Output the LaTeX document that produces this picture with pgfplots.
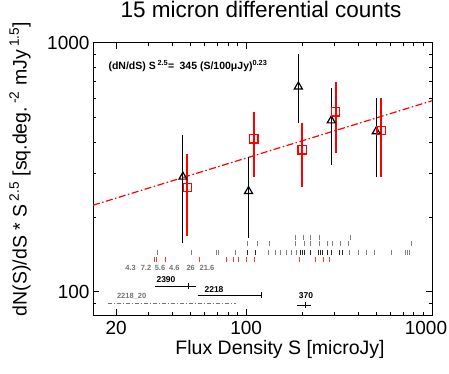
\documentclass[border=0pt]{standalone}
\usepackage{fontspec}
\setmainfont{Liberation Sans}
\usepackage{pgfplots}
\pgfplotsset{compat=1.18}
\begin{document}
\begin{tikzpicture}[x=1pt,y=1pt]
\useasboundingbox (-93,-58) rectangle (356,315);
\begin{axis}[
  at={(0,0)}, anchor=south west,
  width=339pt, height=272pt, scale only axis,
  xmode=log, ymode=log,
  xmin=15, xmax=1000, ymin=80.8, ymax=1000,
  xtick={20,100}, xticklabels={20,100},
  extra x ticks={1000}, extra x tick labels={1000},
  extra x tick style={xticklabel style={xshift=-6pt}},
  ytick={100,1000}, yticklabels={100,1000},
  minor xtick={30,40,50,60,70,80,90,200,300,400,500,600,700,800,900},
  minor ytick={90,200,300,400,500,600,700,800,900},
  major tick length=6pt, minor tick length=3pt,
  tick style={black, line width=1pt},
  axis line style={line width=1pt},
  tick align=inside,
  xtick pos=both, ytick pos=both,
  ticklabel style={font=\fontsize{19}{22}\selectfont},
  xticklabel style={yshift=-3pt},
  /pgf/number format/assume math mode=true,
  title={15 micron differential counts},
  title style={font=\fontsize{22.5}{26}\selectfont, at={(axis description cs:0.4956,1.103)}, anchor=center},
  xlabel={Flux Density S [microJy]},
  xlabel style={font=\fontsize{19.5}{23}\selectfont, at={(axis description cs:0.5516,-0.125)}, anchor=center},
  ylabel={dN(S)/dS * S\,\textsuperscript{2.5} [sq.deg.\,\textsuperscript{-2} mJy\,\textsuperscript{1.5}]},
  ylabel style={font=\fontsize{19.5}{23}\selectfont, at={(axis description cs:-0.2153,0.537)}, anchor=center},
  unbounded coords=jump,
]
% fit line
\addplot[red, line width=1.2pt, dash pattern=on 7pt off 2.5pt on 1.5pt off 2.5pt] coordinates {(15,223) (1000,586)};
% black error bars
\addplot[black, line width=1pt] coordinates {
 (45.7,157) (45.7,427) (45.7,nan)
 (103,165) (103,349) (103,nan)
 (191,476) (191,900) (191,nan)
 (287,324) (287,661) (287,nan)
 (501,290) (501,600)};
% red error bars
\addplot[red, line width=2pt] coordinates {
 (48.3,168) (48.3,357) (48.3,nan)
 (110,290) (110,530) (110,nan)
 (200,265) (200,476) (200,nan)
 (303,360) (303,700) (303,nan)
 (532,290) (532,600)};
% triangles
\addplot[only marks, mark=triangle, mark size=4.6pt, black, mark options={line width=1.2pt, fill=none}] coordinates {
 (45.7,290) (103,254) (191,668) (287,488) (501,441)};
% squares
\addplot[only marks, mark=square, mark size=4.2pt, red, mark options={line width=1.3pt, fill=none}] coordinates {
 (48.3,263) (110,412) (200,372) (303,529) (532,445)};
% rug rows
\addplot[only marks, mark=|, mark size=2.5pt, black!50, mark options={line width=1pt}] coordinates {
 (185.3,165.5) (202.8,165.5) (221.0,165.5) (247.0,165.5) (365.0,165.5)};
\addplot[only marks, mark=|, mark size=2.5pt, black!50, mark options={line width=1pt}] coordinates {
 (102.0,155.9) (114.7,155.9) (133.3,155.9) (184.6,155.9) (206.3,155.9) (220.7,155.9)
 (247.0,155.9) (274.9,155.9) (290.9,155.9) (322.6,155.9) (355.7,155.9) (774.7,155.9)};
\addplot[only marks, mark=|, mark size=2.5pt, black!50, mark options={line width=1pt}] coordinates {
 (33.2,144.1) (51.1,144.1) (69.6,144.1) (70.8,144.1) (87.6,144.1) (132.1,144.1)
 (143.5,144.1) (154.0,144.1) (165.8,144.1) (176.4,144.1) (185.7,144.1) (362.0,144.1)
 (401.1,144.1) (444.8,144.1) (492.8,144.1) (605.3,144.1) (719.4,144.1) (733.8,144.1) (755.7,144.1)};
\addplot[only marks, mark=|, mark size=2.5pt, black!85, mark options={line width=1pt}] coordinates {
 (102.0,144.1) (112.1,144.1) (195.4,144.1) (200.3,144.1) (207.3,144.1) (221.8,144.1)
 (244.5,144.1) (250.0,144.1) (257.2,144.1) (273.5,144.1) (288.1,144.1) (317.9,144.1) (329.1,144.1)};
\addplot[only marks, mark=|, mark size=2.5pt, red!80, mark options={line width=1pt}] coordinates {
 (32.0,134.8) (32.8,134.8) (37.0,134.8) (55.9,134.8) (78.2,134.8) (85.7,134.8) (91.2,134.8)
 (100.7,134.8) (110.4,134.8) (193.0,134.8) (237.2,134.8) (259.4,134.8) (279.4,134.8)};
% horizontal range lines
\addplot[black, line width=0.8pt] coordinates {(32.3,105.7) (53.5,105.7)};
\addplot[only marks, mark=|, mark size=3pt, black, mark options={line width=0.8pt}] coordinates {(49.1,105.7)};
\addplot[black, line width=0.8pt] coordinates {(54.8,97.3) (120.3,97.3)};
\addplot[only marks, mark=|, mark size=3pt, black, mark options={line width=0.8pt}] coordinates {(120.3,97.3)};
\addplot[black!55, line width=0.8pt, dash pattern=on 4pt off 2pt on 1pt off 2pt] coordinates {(18.0,90.1) (88.4,90.1)};
\addplot[black, line width=0.8pt] coordinates {(188,88.7) (224,88.7)};
\addplot[only marks, mark=|, mark size=3pt, black, mark options={line width=0.8pt}] coordinates {(209.6,88.7)};
% texts
\node[anchor=west, font=\fontsize{10.5}{12}\bfseries] at (rel axis cs:0.0354,0.915)
  {(dN/dS) S\,\textsuperscript{2.5}=\enspace 345 (S/100μJy)\textsuperscript{0.23}};
\begin{scope}[every node/.style={font=\fontsize{7.5}{9}\bfseries, text=black!55}]
\node at (rel axis cs:0.111,0.1717) {4.3};
\node at (rel axis cs:0.1563,0.1717) {7.2};
\node at (rel axis cs:0.1976,0.1717) {5.6};
\node at (rel axis cs:0.2399,0.1717) {4.6};
\node at (rel axis cs:0.2882,0.1717) {26};
\node at (rel axis cs:0.3363,0.1717) {21.6};
\node at (rel axis cs:0.114,0.0673) {2218\_20};
\end{scope}
\begin{scope}[every node/.style={font=\fontsize{8.5}{10}\bfseries}]
\node at (rel axis cs:0.2153,0.1287) {2390};
\node at (rel axis cs:0.357,0.0919) {2218};
\node at (rel axis cs:0.6283,0.0699) {370};
\end{scope}
\end{axis}
\end{tikzpicture}
\end{document}
